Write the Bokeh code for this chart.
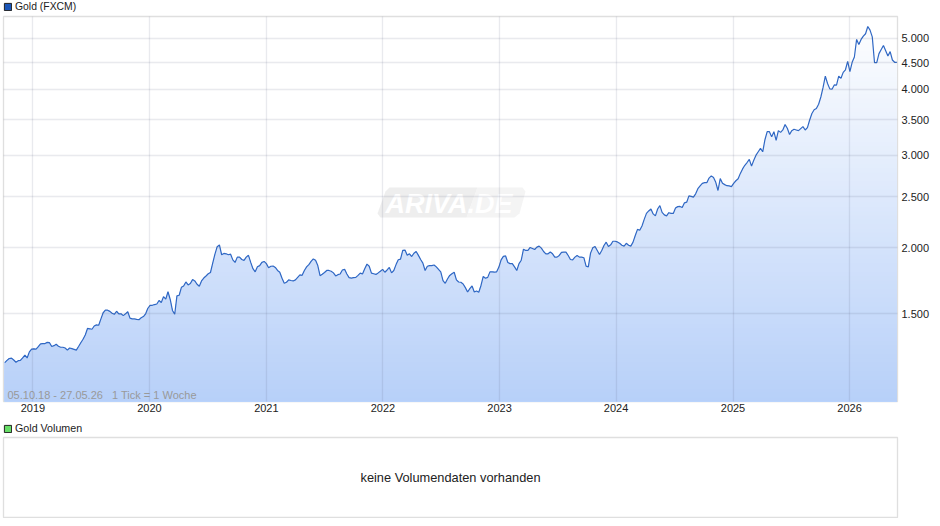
import numpy as np
import pandas as pd
from bokeh.embed import file_html
from bokeh.layouts import column
from bokeh.models import FixedTicker, Label, Legend, PolyAnnotation
from bokeh.plotting import figure
from bokeh.resources import INLINE
from bokeh.core.properties import value

# weekly closes
gold_close = [
    1210, 1222, 1232, 1234, 1224, 1212, 1220, 1222, 1235, 1250, 1235, 1268, 1283, 1285, 1283, 1298, 1313,
    1315, 1315, 1322, 1320, 1298, 1303, 1311, 1300, 1294, 1294, 1290, 1278, 1290, 1286, 1282, 1278, 1298,
    1320, 1340, 1365, 1405, 1403, 1400, 1420, 1427, 1425, 1465, 1505, 1522, 1522, 1514, 1502, 1495, 1515,
    1498, 1498, 1486, 1498, 1512, 1470, 1465, 1465, 1462, 1460, 1472, 1480, 1498, 1535, 1555, 1555, 1560,
    1564, 1588, 1574, 1615, 1598, 1650, 1595, 1520, 1495, 1620, 1625, 1682, 1692, 1722, 1700, 1710, 1740,
    1730, 1705, 1690, 1730, 1752, 1768, 1785, 1795, 1870, 1945, 2010, 2025,
    1940, 1951, 1948, 1940, 1945, 1897, 1876, 1920, 1920, 1900, 1893, 1920, 1935, 1876, 1825, 1800, 1840,
    1850, 1876, 1884, 1866, 1833, 1845, 1847, 1835, 1811, 1797, 1750, 1712, 1720, 1738, 1733, 1730, 1738,
    1757, 1776, 1773, 1811, 1840, 1858, 1884, 1905, 1893, 1850, 1770, 1782, 1795, 1811, 1811, 1805, 1792,
    1768, 1778, 1783, 1815, 1820, 1783, 1755, 1752, 1755, 1757, 1773, 1790, 1783, 1825, 1862, 1845, 1790,
    1785, 1780, 1792, 1805, 1820, 1797, 1815, 1835, 1792, 1811, 1858, 1898, 1903, 1977, 1980, 1935, 1948,
    1925, 1953, 1968, 1935, 1900, 1870, 1811, 1845, 1850, 1850, 1855, 1840, 1820, 1800, 1733, 1712, 1745,
    1772, 1785, 1797, 1738, 1722,
    1720, 1707, 1680, 1648, 1673, 1692, 1648, 1655, 1646, 1696, 1764, 1750, 1757, 1800, 1800, 1798, 1800,
    1838, 1897, 1926, 1930, 1875, 1866, 1866, 1840, 1811, 1866, 1894, 1988, 1977, 1977, 2003, 1994, 1985,
    2006, 2015, 1997, 1968, 1948, 1948, 1963, 1948, 1920, 1920, 1934, 1960, 1963, 1963, 1934, 1900, 1897,
    1920, 1934, 1920, 1920, 1915, 1846, 1840, 1954, 2000, 2012, 1977, 1942, 1977, 2020, 2050, 2012, 2026,
    2058, 2058, 2052, 2040, 2023, 2015, 2040, 2023, 2015, 2050, 2110, 2168, 2160, 2200, 2265, 2325, 2350,
    2370, 2320, 2300, 2370, 2405, 2335, 2310, 2300, 2332, 2325, 2325, 2380, 2395,
    2397, 2385, 2435, 2442, 2510, 2505, 2497, 2533, 2590, 2622, 2652, 2660, 2660, 2714, 2740, 2720, 2664,
    2570, 2708, 2652, 2637, 2625, 2622, 2615, 2652, 2682, 2705, 2770, 2825, 2870, 2905, 2945, 2860, 2935,
    3000, 3045, 3090, 3045, 3210, 3325, 3325, 3250, 3325, 3200, 3340, 3315, 3350, 3430, 3375, 3285, 3340,
    3360, 3350, 3340, 3370, 3400, 3350, 3385, 3500, 3600, 3660, 3680,
    3750, 3870, 4035, 4240, 4105, 4010, 4005, 4080, 4075, 4240, 4200, 4310, 4360, 4525, 4325, 4505, 4610,
    4980, 4870, 4980, 5050, 5105, 5270, 5185, 5035, 4500, 4500, 4680, 4765, 4850, 4740, 4630, 4720, 4550,
    4505, 4505,
]
price_ticks = [1500, 2000, 2500, 3000, 3500, 4000, 4500, 5000]
price_labels = ["1.500", "2.000", "2.500", "3.000", "3.500", "4.000", "4.500", "5.000"]
year_labels = ["2019", "2020", "2021", "2022", "2023", "2024", "2025", "2026"]

dates = pd.date_range("2018-10-05", periods=len(gold_close), freq="7D")
gold = np.array(gold_close, dtype=float)
year_ticks = [pd.Timestamp(y + "-01-01").timestamp() * 1000 for y in year_labels]

FONT = "Liberation Sans"
GRID = "#dfdfdf"
y_low, y_high = 1020.5, 5505.0


def header(text, color, height, offset, font_size):
    # thin figure of its own, annotations outside a frame get cut off
    h = figure(width=932, height=height, x_range=(0, 1), y_range=(0, 1), output_backend="svg",
               toolbar_location=None, min_border=0)
    h.axis.visible = False
    h.grid.visible = False
    h.outline_line_color = None
    box = h.quad(left=[np.nan], right=[np.nan], top=[np.nan], bottom=[np.nan], fill_color=color,
                 line_color="#222222", line_width=1)
    h.add_layout(Legend(items=[(text, [box])], location=(0, offset), margin=0, padding=0, border_line_color=None,
                        background_fill_alpha=0, glyph_width=9, glyph_height=9, label_standoff=3,
                        label_text_font=FONT, label_text_font_size=font_size, label_text_color="#222222"))
    return h


p = figure(width=932, height=405, x_axis_type="datetime", y_axis_type="log", y_axis_location="right",
           x_range=(pd.Timestamp("2018-10-01"), pd.Timestamp("2026-05-31")), y_range=(y_low, y_high),
           output_backend="svg", toolbar_location=None, min_border_left=3, min_border_right=34,
           min_border_top=1, min_border_bottom=19)

# fill gradient: light bands first, darker ones painted over them
n_bands = 90
levels = np.geomspace(y_high, y_low, n_bands)
for k, level in enumerate(levels):
    t = k / (n_bands - 1)
    r, g, b = int(255 - 72 * t), int(255 - 47 * t), int(255 - 6 * t)
    p.varea(x=dates, y1=y_low, y2=np.minimum(gold, level), fill_color=(r, g, b))
p.line(dates, gold, line_color="#3068c4", line_width=1.2)

p.xaxis.ticker = FixedTicker(ticks=year_ticks)
p.xaxis.major_label_overrides = dict(zip(year_ticks, year_labels))
p.yaxis.ticker = FixedTicker(ticks=price_ticks)
p.yaxis.major_label_overrides = dict(zip(price_ticks, price_labels))
for ax in (p.xaxis, p.yaxis):
    ax.axis_line_color = None
    ax.major_tick_line_color = None
    ax.minor_tick_line_color = None
    ax.major_tick_out = 0
    ax.major_tick_in = 0
    ax.major_label_text_font = FONT
    ax.major_label_text_font_size = "11px"
    ax.major_label_text_color = "#222222"
    ax.major_label_standoff = 4
p.xaxis.major_label_standoff = 2
p.grid.grid_line_color = "#505878"
p.grid.grid_line_alpha = 0.125
p.grid.grid_line_width = 1.3
p.grid.level = "overlay"
p.outline_line_color = GRID
p.outline_line_width = 1.3
p.border_fill_color = "white"

# watermark
p.add_layout(PolyAnnotation(xs=[389, 477, 466, 380, 377, 385], ys=[172, 172, 202, 202, 198, 176],
                            xs_units="canvas", ys_units="canvas",
                            fill_color="#e8e8e8", fill_alpha=0.75, line_color=None))
p.add_layout(PolyAnnotation(xs=[477, 522, 525, 519, 514, 466], ys=[172, 172, 176, 198, 202, 202],
                            xs_units="canvas", ys_units="canvas",
                            fill_color="#f0f0f0", fill_alpha=0.75, line_color=None))
p.add_layout(Label(x=385, y=188, x_units="canvas", y_units="canvas", text="ARIVA.DE", text_color="white",
                   text_baseline="middle", text_font=FONT, text_font_size="27px", text_font_style="bold italic"))

p.add_layout(Label(x=7, y=379, x_units="canvas", y_units="canvas",
                   text="05.10.18 - 27.05.26\u00a0\u00a0\u00a01 Tick = 1 Woche", text_baseline="middle",
                   text_color="#999999", text_font=FONT, text_font_size="11px"))

v = figure(width=932, height=82, x_range=(0, 1), y_range=(0, 1), output_backend="svg", toolbar_location=None,
           min_border_left=3, min_border_right=34, min_border_top=1, min_border_bottom=1)
v.axis.visible = False
v.grid.visible = False
v.outline_line_color = GRID
v.outline_line_width = 1.3
v.text(x=[0.5], y=[0.5], text=["keine Volumendaten vorhanden"], text_align="center", text_baseline="middle",
       text_font=value(FONT), text_font_size="12.8px", text_color="#222222")

page = column(header("Gold (FXCM)", "#1a56b8", 15, 3, "10.4px"), p, header("Gold Volumen", "#66dd66", 16, 2, "10.7px"), v,
              spacing=0, styles={"position": "absolute", "left": "0px", "top": "0px"})
open("out.html", "w").write(file_html(page, INLINE))
